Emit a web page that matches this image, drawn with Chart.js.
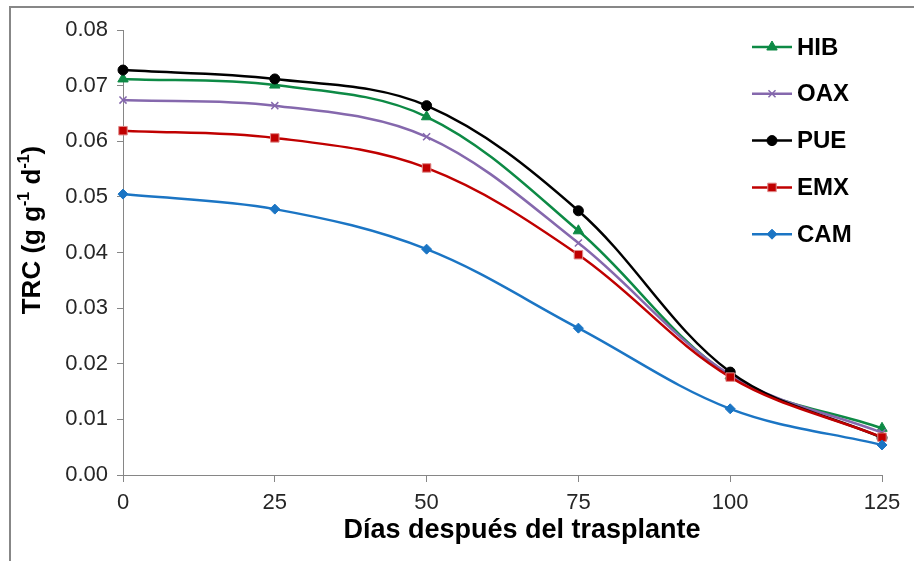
<!DOCTYPE html>
<html lang="es">

<head>
  <meta charset="UTF-8">
  <title>TRC por días después del trasplante</title>
  <script src="https://cdn.jsdelivr.net/npm/chart.js"></script>
  <style>
    html,
    body {
      margin: 0;
      padding: 0;
      background: #fff;
      overflow: hidden;
    }

    .frame {
      position: absolute;
      left: 9px;
      top: 6px;
      width: 1000px;
      height: 1000px;
      border: 2px solid #878787;
    }

    #trcChart {
      position: absolute;
      left: 0;
      top: 0;
    }
  </style>
</head>

<body>
  <div class="frame"></div>
  <canvas id="trcChart" width="914" height="561"></canvas>

  <script>
    // días después del trasplante
    const dias = [0, 25, 50, 75, 100, 125];

    // tasa relativa de crecimiento (g g-1 d-1) por población
    const hib = [0.0712, 0.0701, 0.0644, 0.0439, 0.0178, 0.0084];
    const oax = [0.0674, 0.0664, 0.0608, 0.0417, 0.0180, 0.0076];
    const pue = [0.0728, 0.0712, 0.0664, 0.0475, 0.0185, 0.0067];
    const emx = [0.0619, 0.0606, 0.0552, 0.0396, 0.0176, 0.0068];
    const cam = [0.0505, 0.0478, 0.0406, 0.0264, 0.0119, 0.0054];

    const yMax = 0.08;
    const yStep = 0.01;
    const xStep = 25;

    const FONT = "'Liberation Sans', Arial, sans-serif";

    function serie(label, values, color, style, radius, order, border) {
      return {
        label: label,
        data: values.map((v, i) => ({ x: dias[i], y: v })),
        borderColor: color,
        backgroundColor: color,
        borderWidth: 2.5,
        pointStyle: style,
        pointRadius: radius,
        pointHoverRadius: radius,
        pointBackgroundColor: color,
        pointBorderColor: border || color,
        pointBorderWidth: style === 'crossRot' ? 1.5 : 1,
        tension: 0.35,
        clip: false,
        order: order
      };
    }

    const datasets = [
      serie('HIB', hib, '#0d8a45', 'triangle', 6, 4),
      serie('OAX', oax, '#8568ad', 'crossRot', 5, 3),
      serie('PUE', pue, '#000000', 'circle', 5, 2),
      serie('EMX', emx, '#c00000', 'rect', 6, 1, '#e08a8a'),
      serie('CAM', cam, '#1b75c4', 'rectRot', 5, 0)
    ];

    // leyenda dentro del área de trazado, arriba a la derecha
    const leyenda = {
      id: 'leyenda',
      afterDraw(chart) {
        const { ctx, chartArea } = chart;
        const x0 = chartArea.right - 130;
        ctx.save();
        chart.data.datasets.forEach((ds, i) => {
          const y = chartArea.top + 17 + i * 46.8;
          ctx.strokeStyle = ds.borderColor;
          ctx.lineWidth = 2.5;
          ctx.beginPath();
          ctx.moveTo(x0, y);
          ctx.lineTo(x0 + 40, y);
          ctx.stroke();
          ctx.fillStyle = ds.pointBackgroundColor;
          ctx.strokeStyle = ds.pointBorderColor;
          ctx.lineWidth = ds.pointBorderWidth;
          Chart.helpers.drawPoint(ctx, {
            pointStyle: ds.pointStyle,
            radius: ds.pointRadius,
            rotation: 0,
            borderWidth: ds.pointBorderWidth
          }, x0 + 20, y);
          ctx.fillStyle = '#000';
          ctx.font = 'bold 24px ' + FONT;
          ctx.textBaseline = 'middle';
          ctx.textAlign = 'left';
          ctx.fillText(ds.label, x0 + 45, y + 1);
        });
        ctx.restore();
      }
    };

    // títulos de los ejes (el del eje Y lleva superíndices)
    const titulos = {
      id: 'titulos',
      afterDraw(chart) {
        const { ctx, chartArea } = chart;
        ctx.save();
        ctx.fillStyle = '#000';
        ctx.textBaseline = 'middle';

        ctx.font = 'bold 27px ' + FONT;
        ctx.textAlign = 'center';
        ctx.fillText('Días después del trasplante', chartArea.left + 399, chartArea.bottom + 56);

        const partes = [
          ['TRC (g g', false], ['-1', true], [' d', false], ['-1', true], [')', false]
        ];
        const big = 'bold 26px ' + FONT;
        const small = 'bold 16px ' + FONT;
        let total = 0;
        partes.forEach(p => {
          ctx.font = p[1] ? small : big;
          total += ctx.measureText(p[0]).width;
        });
        ctx.translate(33, chartArea.top + 200);
        ctx.rotate(-Math.PI / 2);
        ctx.textAlign = 'left';
        let x = -total / 2;
        partes.forEach(p => {
          ctx.font = p[1] ? small : big;
          ctx.fillText(p[0], x, p[1] ? -8 : 0);
          x += ctx.measureText(p[0]).width;
        });
        ctx.restore();
      }
    };

    const ejeColor = '#868686';
    const tickFont = { family: FONT, size: 22 };

    new Chart(document.getElementById('trcChart'), {
      type: 'line',
      data: { datasets: datasets },
      options: {
        responsive: false,
        animation: false,
        layout: { padding: { left: 10, top: 30, right: 32, bottom: 6 } },
        scales: {
          x: {
            type: 'linear',
            min: dias[0],
            max: dias[dias.length - 1],
            afterFit(scale) { scale.height = 80; },
            ticks: { stepSize: xStep, color: '#262626', font: tickFont, padding: 8, maxRotation: 0 },
            grid: { drawOnChartArea: false, drawTicks: true, tickLength: 7, color: ejeColor },
            border: { display: true, color: ejeColor, width: 1 }
          },
          y: {
            min: 0,
            max: yMax,
            afterFit(scale) { scale.width = 113; },
            ticks: {
              stepSize: yStep,
              color: '#262626',
              font: tickFont,
              padding: 9,
              callback: v => v.toFixed(2)
            },
            grid: { drawOnChartArea: false, drawTicks: true, tickLength: 6, color: ejeColor },
            border: { display: true, color: ejeColor, width: 1 }
          }
        },
        plugins: {
          legend: { display: false },
          tooltip: { enabled: false }
        }
      },
      plugins: [leyenda, titulos]
    });
  </script>
</body>

</html>
